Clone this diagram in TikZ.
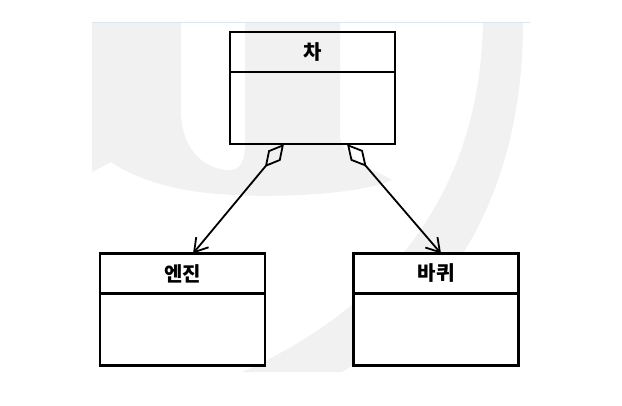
\documentclass[tikz,border=0pt]{standalone}
\usepackage{fontspec}
\newfontfamily\krfont{Noto Sans CJK KR}
\usetikzlibrary{positioning,arrows.meta}
\definecolor{markgray}{RGB}{241,241,241}
\definecolor{ruleblue}{RGB}{221,231,243}

\begin{document}
\begin{tikzpicture}
		[x=1pt, y=-1pt,
		title/.style={draw, line width=2.2pt, outer sep=0pt, minimum width=165pt, minimum height=40pt,
			font=\krfont\bfseries\fontsize{20}{20}\selectfont},
		compartment/.style={draw, line width=2.2pt, outer sep=0pt, minimum width=165pt, minimum height=72pt},
		aggr/.style={line width=1.8pt,
			{Diamond[open, length=30pt, width=16pt]}-{Straight Barb[length=13pt, width=16pt]}}]
		\fill[white] (0,0) rectangle (622,405);
		\fill[markgray] (92,22) -- (340,22) -- (340,138) .. controls (345,160) and (375,170) .. (392,180)
			.. controls (360,195) and (260,200) .. (200,192) .. controls (160,187) and (130,175) .. (111,162)
			-- (92,172) -- cycle;
		\fill[white] (181,22) -- (181,110) .. controls (181,150) and (205,170) .. (230,170)
			.. controls (240,170) and (245,160) .. (245,145) -- (245,22) -- cycle;
		\fill[markgray] (483,22) -- (523,22) .. controls (523,180) and (460,300) .. (342,372)
			-- (242,372) .. controls (380,310) and (480,200) .. (483,22) -- cycle;
		\draw[ruleblue, line width=0.8pt] (92,22) -- (530,22);

		\node[title] (car) at (312.5,52) {차};
		\node[compartment, below=0pt of car] (carbody) {};
		\node[title, fill=white] (engine) at (182.5,273.5) {엔진};
		\node[compartment, fill=white, below=0pt of engine] (enginebody) {};
		\node[title, fill=white] (wheel) at (436,273.5) {바퀴};
		\node[compartment, fill=white, below=0pt of wheel] (wheelbody) {};

		\draw[aggr] ([xshift=-28.5pt]carbody.south) -- ([xshift=10.5pt]engine.north);
		\draw[aggr] ([xshift=34.5pt]carbody.south) -- ([xshift=5pt]wheel.north);
	\end{tikzpicture}
\end{document}
